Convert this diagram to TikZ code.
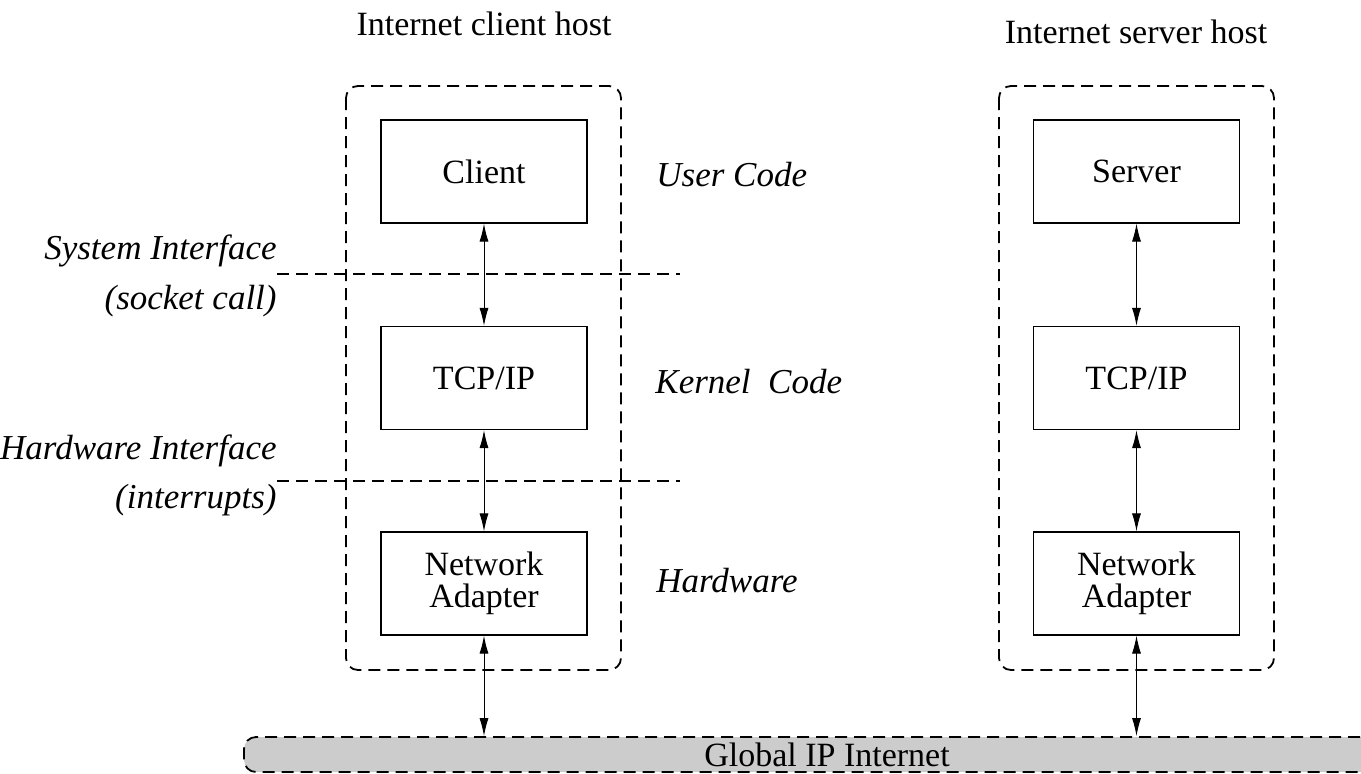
\documentclass[tikz,border=0pt]{standalone}
\usepackage{fontspec}
\setmainfont{Liberation Serif}
\usetikzlibrary{arrows.meta}

\begin{document}
\begin{tikzpicture}[x=0.5pt, y=-0.5pt,
    every node/.style={font=\fontsize{17pt}{16pt}\selectfont},
    layer/.style={draw, line width=0.6pt, minimum width=103pt, minimum height=51.5pt, align=center, inner sep=0pt},
    host/.style={draw, line width=0.9pt, dash pattern=on 6pt off 3.5pt, rounded corners=6pt},
    iface/.style={line width=0.9pt, dash pattern=on 6pt off 3.5pt},
    note/.style={font=\fontsize{17.5pt}{16pt}\selectfont\itshape, inner sep=0pt},
    link/.style={line width=0.5pt, {Latex[length=9pt,width=4.5pt]}-{Latex[length=9pt,width=4.5pt]}}]

    \useasboundingbox (0,0) rectangle (1361,773);
    \clip (0,0) rectangle (1361,773);

    % the network along the bottom
    \node[host, fill=black!20, minimum width=583pt, minimum height=17.5pt, inner sep=0pt] (net) at (827,754.5) {Global IP Internet};

    % the two hosts
    \draw[host] (346,86) rectangle (621,670);
    \draw[host] (999,86) rectangle (1274,670);
    \node[anchor=base] (clienthost) at (484,35) {Internet client host};
    \node[anchor=base] (serverhost) at (1136,43) {Internet server host};

    % client side layers
    \node[layer] (client) at (484,171.5) {Client};
    \node[layer] (ctcp) at (484,378) {TCP/IP};
    \node[layer] (cnic) at (484,583.5) {Network\\Adapter};

    % server side layers
    \node[layer] (server) at (1136.5,171.5) {Server};
    \node[layer] (stcp) at (1136.5,378) {TCP/IP};
    \node[layer] (snic) at (1136.5,583.5) {Network\\Adapter};

    \draw[link] (client) -- (ctcp);
    \draw[link] (ctcp) -- (cnic);
    \draw[link] (cnic.south) -- (cnic.south |- net.north);
    \draw[link] (server) -- (stcp);
    \draw[link] (stcp) -- (snic);
    \draw[link] (snic.south) -- (snic.south |- net.north);

    % interfaces
    \draw[iface] (277,274) -- (680,274);
    \draw[iface] (277,481) -- (680,481);
    \node[note, anchor=base east] (sysif) at (277,259) {System Interface};
    \node[note, anchor=base east] (sockcall) at (277,309) {(socket call)};
    \node[note, anchor=base east] (hwif) at (277,459) {Hardware Interface};
    \node[note, anchor=base east] (irq) at (277,508) {(interrupts)};

    % what runs where
    \node[note, anchor=base west] (usercode) at (656,186) {User Code};
    \node[note, anchor=base west] (kernelcode) at (655,393) {Kernel\ \ Code};
    \node[note, anchor=base west] (hardware) at (656,592) {Hardware};

\end{tikzpicture}
\end{document}
